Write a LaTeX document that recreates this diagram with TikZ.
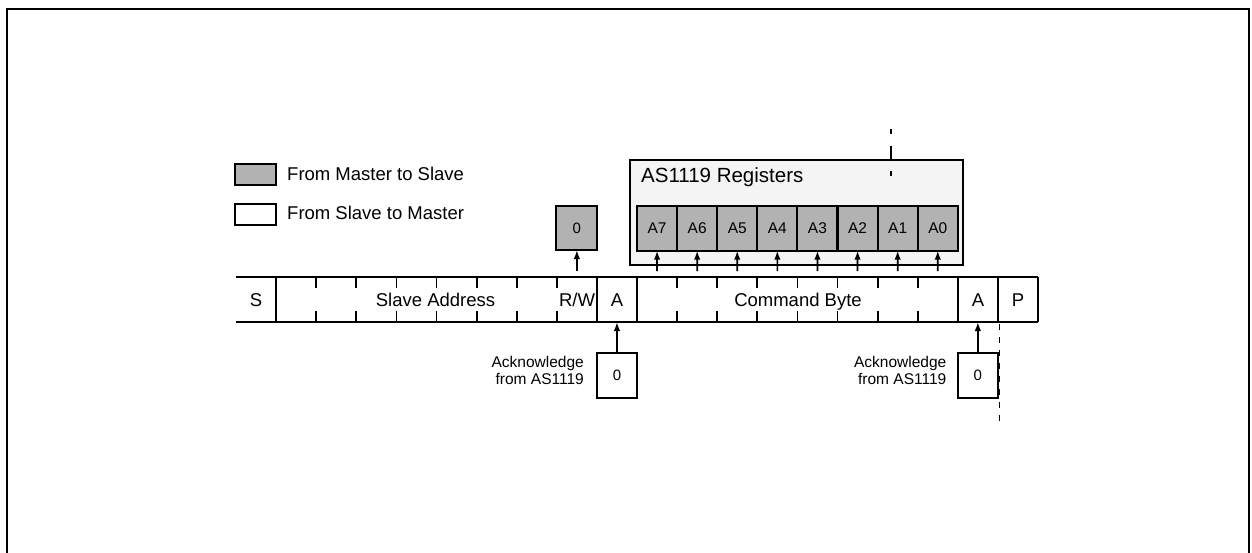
\documentclass[tikz,border=0pt]{standalone}
\usepackage{fontspec}
\setmainfont{Liberation Sans}
\usetikzlibrary{arrows.meta}
\definecolor{cellgray}{RGB}{178,178,178}
\definecolor{boxgray}{RGB}{244,244,244}
\begin{document}
\begin{tikzpicture}[x=1pt,y=-1pt,
  frame/.style={line width=2.3pt},
  busline/.style={line width=2.3pt},
  divider/.style={line width=2.1pt},
  tickmark/.style={line width=1.8pt},
  dashseg/.style={line width=1.9pt},
  bitcell/.style={minimum width=40.1pt, minimum height=45pt, inner sep=0pt, outer sep=0pt},
  regcell/.style={bitcell, draw, line width=2.1pt, fill=cellgray, font=\fontsize{15.5}{18}\selectfont},
  ackbox/.style={bitcell, minimum width=40pt, draw, line width=2.1pt, fill=white, font=\fontsize{15}{18}\selectfont},
  rwbox/.style={ackbox, fill=cellgray, minimum width=41pt, minimum height=44pt},
  legbox/.style={draw, line width=2.1pt, minimum width=41pt, minimum height=21pt, inner sep=0pt, outer sep=0pt},
  arr/.style={line width=1.7pt, -{Latex[length=9pt,width=6.5pt]}},
  bustext/.style={anchor=base, inner sep=0pt, font=\fontsize{18.5}{22}\selectfont},
  legtext/.style={anchor=base west, inner sep=0pt, font=\fontsize{18.5}{22}\selectfont},
  acktext/.style={align=right, anchor=east, inner sep=0pt, font=\fontsize{15.5}{17.5}\selectfont},
  regframe/.style={draw, line width=2.1pt, fill=boxgray, inner sep=0pt, outer sep=0pt},
]
\useasboundingbox (0,0) rectangle (1252,552);
\draw[frame] (7,560) -- (7,9) -- (1249,9) -- (1249,560);

% legend
\node[legbox, fill=cellgray] (legm) at (255.5,174.5) {};
\node[legbox, fill=white] (legs) at (255.5,214.5) {};
\node[legtext] (legmt) at (287,180) {From Master to Slave};
\node[legtext] (legst) at (287,219) {From Slave to Master};

% registers frame
\node[regframe, minimum width=333pt, minimum height=105pt] (regbox) at (796.5,212.5) {};
\node[anchor=base west, inner sep=0pt, font=\fontsize{20.5}{24}\selectfont] (regtitle) at (641,182) {AS1119 Registers};

% bus cells
\foreach \k in {0,...,19} \node[bitcell] (c\k) at ({256.05+40.1*\k},299.5) {};
\draw[busline] (c0.north west) -- (c19.north east);
\draw[busline] (c0.south west) -- (c19.south east);
\foreach \k in {0,8,9,17,18,19} \draw[divider] (c\k.north east) -- (c\k.south east);
\foreach \k in {1,2,3,4,5,6,7,10,11,12,13,14,15,16} {
  \draw[tickmark] (c\k.north east) -- ++(0,11);
  \draw[tickmark] (c\k.south east) -- ++(0,-11);
}
\node[bustext] (ts) at (256,306) {S};
\node[bustext] (tsa) at (435.5,306) {Slave Address};
\node[bustext] (trw) at (577,306) {R/W};
\node[bustext] (ta1) at (617,306) {A};
\node[bustext] (tcb) at (798,306) {Command Byte};
\node[bustext] (ta2) at (978,306) {A};
\node[bustext] (tp) at (1018,306) {P};

% register cells
\foreach \i [count=\n from 0] in {7,...,0}
  \node[regcell] (r\i) at ({657.05+40.1*\n},228.2) {A\i};
\foreach \i [count=\n from 10] in {7,...,0}
  \draw[arr, shorten <=6pt] (c\n.north) -- (r\i.south);

% R/W box
\node[rwbox] (rw) at (c8 |- 0,228) {0};
\draw[arr, shorten <=6pt] (c8.north) -- (rw.south);

% acknowledge boxes
\node[ackbox] (ack1) at (c9 |- 0,375.5) {0};
\node[ackbox] (ack2) at (c18 |- 0,375.5) {0};
\draw[arr] (ack1.north) -- (c9.south);
\draw[arr] (ack2.north) -- (c18.south);
\node[acktext] (ackt1) at (584,370.5) {Acknowledge\\from AS1119};
\node[acktext] (ackt2) at (946.5,370.5) {Acknowledge\\from AS1119};

% dashed marker lines
\draw[dashseg] (891,129) -- (891,134);
\draw[dashseg] (891,146) -- (891,160);
\draw[dashseg] (891,171) -- (891,176);
\draw[dashseg, dash pattern=on 6pt off 7pt] (999.5,324) -- (999.5,421);
\end{tikzpicture}
\end{document}
